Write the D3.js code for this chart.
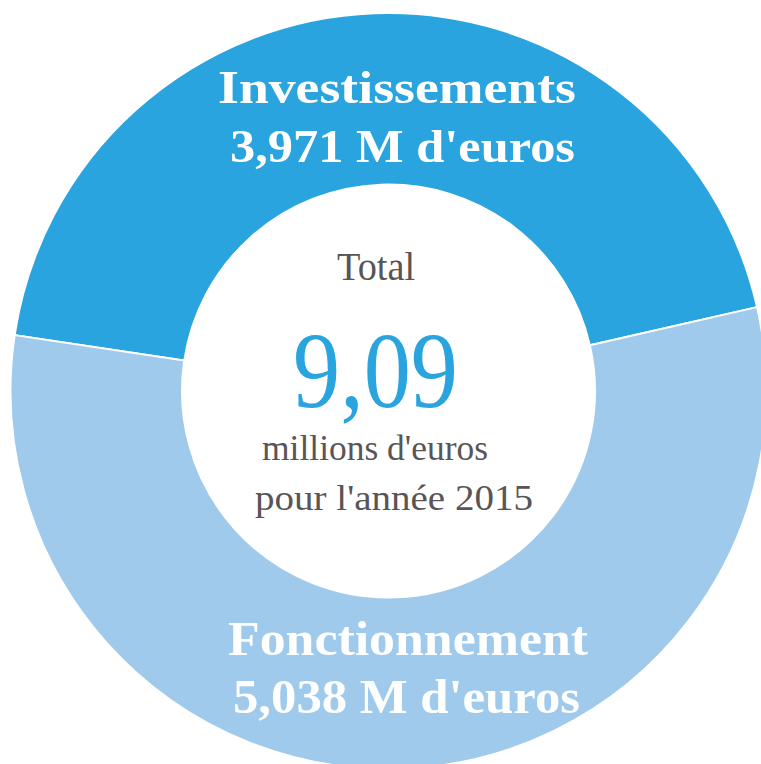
<!DOCTYPE html>
<html><head><meta charset="utf-8">
<script src="https://cdn.jsdelivr.net/npm/d3@7"></script>
<style>html,body{margin:0;padding:0;background:#fff;}svg{display:block;}</style>
</head><body>
<svg id="chart" width="761" height="764"></svg>
<script>
const categories = ["Investissements", "Fonctionnement"];
const values = [3971, 5038];
const colors = ["#29A4DF", "#9FCAEC"];
const totalLabel = "9,09";
const centerLines = ["Total", "millions d'euros", "pour l'année 2015"];

const svg = d3.select("#chart");
const cx = 388.5, cy = 391, outerR = 378, innerR = 206.5;
const g = svg.append("g").attr("transform", `translate(${cx},${cy})`);

const startDeg = -81.5;
const pie = d3.pie().sort(null).value(d => d.v)
  .startAngle(startDeg * Math.PI / 180)
  .endAngle((startDeg + 360) * Math.PI / 180);
const arc = d3.arc().innerRadius(innerR).outerRadius(outerR);
const data = categories.map((c, i) => ({c, v: values[i], col: colors[i]}));

g.selectAll("path").data(pie(data)).enter().append("path")
  .attr("d", arc).attr("fill", d => d.data.col)
  .attr("stroke", "#fff").attr("stroke-width", 2);

const fmt = v => (v / 1000).toFixed(3).replace(".", ",") + " M d'euros";

// slice labels
const labelSpecs = [
  {text: categories[0], x: 218, y: 103, w: 358, size: 46},
  {text: fmt(values[0]), x: 230, y: 162, w: 345, size: 46},
  {text: categories[1], x: 228, y: 655, w: 360, size: 48},
  {text: fmt(values[1]), x: 233, y: 713, w: 347, size: 48}
];
svg.selectAll("text.lbl").data(labelSpecs).enter().append("text")
  .attr("class", "lbl")
  .attr("x", d => d.x).attr("y", d => d.y)
  .attr("textLength", d => d.w).attr("lengthAdjust", "spacingAndGlyphs")
  .style("font-family", "'Liberation Serif', 'DejaVu Serif', serif")
  .style("font-weight", "bold").style("font-size", d => d.size + "px")
  .attr("fill", "#fff").text(d => d.text);

// center texts
const centerSpecs = [
  {text: centerLines[0], x: 337, y: 280, w: 78, size: 40, col: "#595556"},
  {text: totalLabel, x: 293, y: 407, w: 165, size: 108, col: "#29A4DF"},
  {text: centerLines[1], x: 262, y: 460, w: 226, size: 36, col: "#595556"},
  {text: centerLines[2], x: 255, y: 510, w: 278, size: 36, col: "#595556"}
];
svg.selectAll("text.ctr").data(centerSpecs).enter().append("text")
  .attr("class", "ctr")
  .attr("x", d => d.x).attr("y", d => d.y)
  .attr("textLength", d => d.w).attr("lengthAdjust", "spacingAndGlyphs")
  .style("font-family", "'Liberation Serif', 'DejaVu Serif', serif")
  .style("font-size", d => d.size + "px")
  .attr("fill", d => d.col).text(d => d.text);
</script>
</body></html>
